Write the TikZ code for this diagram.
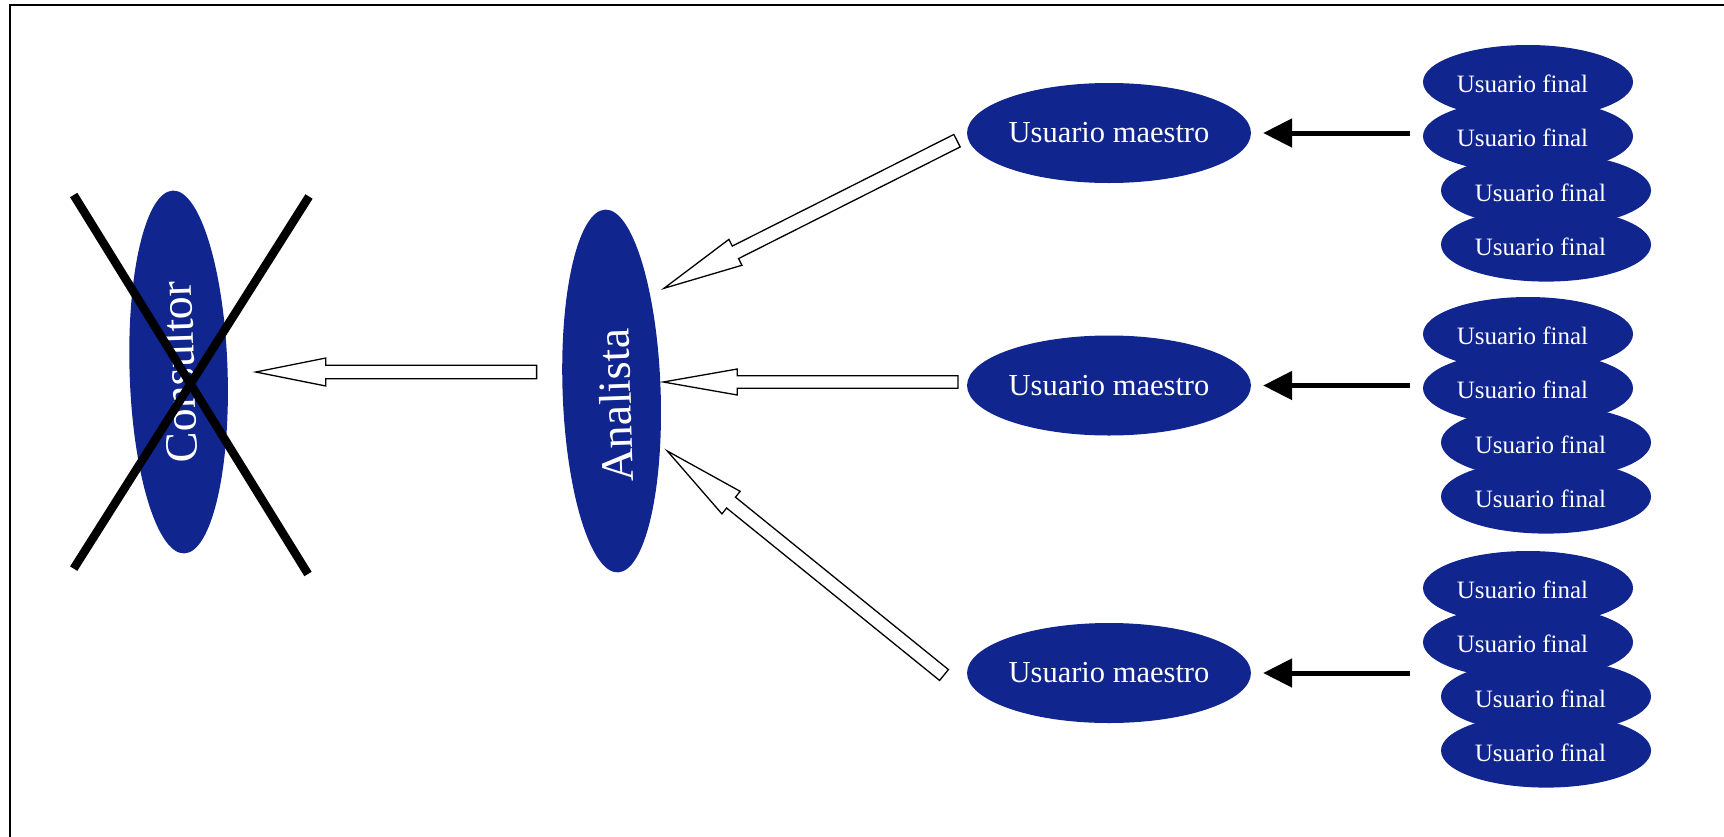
\documentclass[tikz,border=0pt]{standalone}
\usepackage{fontspec}
\setmainfont{Liberation Serif}
\usetikzlibrary{shapes.geometric,arrows.meta,calc}
\definecolor{navy}{RGB}{17,37,143}

% Hollow block arrow: #1 tail, #2 tip, #3 head length, #4 head half width, #5 shaft half width
\newcommand{\hollowarrow}[5]{%
  \coordinate (hb) at ($(#2)!#3!(#1)$);
  \draw[hollow] ($(#1)!#5!90:(#2)$) -- ($(hb)!#5!90:(#2)$) -- ($(hb)!#4!90:(#2)$)
    -- (#2) -- ($(hb)!#4!-90:(#2)$) -- ($(hb)!#5!-90:(#2)$) -- ($(#1)!#5!-90:(#2)$) -- cycle;}

\begin{document}
\begin{tikzpicture}[x=1bp,y=-1bp,
  oval/.style={ellipse, fill=navy, text=white, inner sep=0pt},
  bigoval/.style={oval, minimum width=363bp, minimum height=98bp,
    font=\fontsize{46bp}{50bp}\selectfont},
  master/.style={oval, minimum width=274bp, minimum height=100bp,
    font=\fontsize{30.5bp}{34bp}\selectfont},
  enduser/.style={oval, minimum width=210bp, minimum height=74bp,
    text height=21.5bp, text depth=0pt,
    font=\fontsize{25bp}{28bp}\selectfont},
  hollow/.style={draw=black, fill=white, line width=1.3bp, line join=miter},
  solidarrow/.style={line width=5bp, -{Triangle[length=29bp,width=28bp]}},
  cross/.style={line width=8.5bp}]

\useasboundingbox (0,0) rectangle (1724,837);

% frame
\draw[line width=1.8bp] (10,837) -- (10,5.3) -- (1724,5.3);

% roles
\node[bigoval, rotate=91.8] (consultor) at (178.6,372) {Consultor};
\node[bigoval, rotate=92, text height=38bp, text depth=0pt] (analista) at (611.6,391) {Analista\kern29bp};

\node[master] (m1) at (1109,133) {Usuario maestro};
\node[master] (m2) at (1109,385.5) {Usuario maestro};
\node[master] (m3) at (1109,673) {Usuario maestro};

% stacks of end users
\foreach \g/\dy in {1/0,2/252,3/506}{
  \node[enduser] (f\g-a) at (1528,82+\dy) {Usuario final\kern11bp};
  \node[enduser] (f\g-b) at (1528,136.2+\dy) {Usuario final\kern11bp};
  \node[enduser] (f\g-c) at (1546,190.4+\dy) {Usuario final\kern11bp};
  \node[enduser] (f\g-d) at (1546,244.6+\dy) {Usuario final\kern11bp};
}

% end users report to their master user
\foreach \g in {1,2,3}
  \draw[solidarrow] ($(f\g-b.west |- m\g.east)+(-13,0)$) -- ($(m\g.east)+(12,0)$);

% block arrow ends
\coordinate (a0tail) at (536.6,372);
\coordinate (a0tip) at (255.8,372);
\coordinate (a1tail) at (957,140.7);
\coordinate (a1tip) at (664,288.3);
\coordinate (a2tail) at (958,382);
\coordinate (a2tip) at (663.3,382);
\coordinate (a3tail) at (944,675);
\coordinate (a3tip) at (667.3,451);

\hollowarrow{a0tail}{a0tip}{70bp}{14bp}{6.7bp}
\hollowarrow{a1tail}{a1tip}{80bp}{14.5bp}{7bp}
\hollowarrow{a2tail}{a2tip}{74bp}{13bp}{6.3bp}
\hollowarrow{a3tail}{a3tip}{82bp}{14.5bp}{7bp}

% the consultant is crossed out
\draw[cross] (73.7,195) -- (308,574);
\draw[cross] (309,196.5) -- (73.7,568.6);
\end{tikzpicture}
\end{document}
